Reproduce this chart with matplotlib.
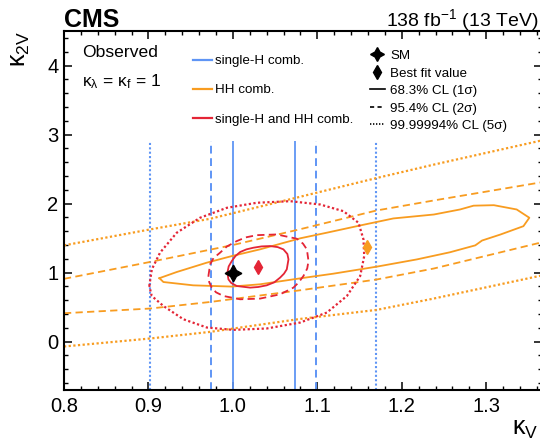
import matplotlib
matplotlib.use("Agg")
import matplotlib.pyplot as plt
from matplotlib.lines import Line2D
from matplotlib.ticker import MultipleLocator, FormatStrFormatter

plt.rcParams['font.family'] = ['Liberation Sans', 'DejaVu Sans']
plt.rcParams['mathtext.fontset'] = 'custom'
plt.rcParams['mathtext.rm'] = 'Liberation Sans'
plt.rcParams['mathtext.it'] = 'Liberation Sans:italic'
plt.rcParams['mathtext.bf'] = 'Liberation Sans:bold'

# ---------------- data ----------------
# single-H combination: kappa_V intervals (vertical bands), k2V scan top
sh_1sig = [1.000, 1.073]
sh_2sig = [0.974, 1.098]
sh_5sig = [0.902, 1.169]
sh_k2v_top = 2.9

# HH combination, 68.3% CL closed contour
hh1_kv = [0.913, 0.9335, 0.969, 0.9987, 1.032, 1.080, 1.111, 1.151, 1.190, 1.238,
          1.269, 1.285, 1.309, 1.336, 1.351, 1.344, 1.317, 1.295, 1.287, 1.257,
          1.218, 1.1705, 1.119, 1.080, 1.032, 0.9987, 0.953, 0.9177, 0.913]
hh1_k2v = [0.92, 1.009, 1.144, 1.240, 1.337, 1.498, 1.578, 1.684, 1.785, 1.842,
           1.915, 1.970, 1.977, 1.915, 1.795, 1.673, 1.553, 1.465, 1.395, 1.295,
           1.192, 1.087, 0.985, 0.918, 0.831, 0.798, 0.816, 0.864, 0.92]
# HH 95.4% CL (two open branches)
hh2u_kv = [0.8, 0.9, 1.0, 1.08, 1.17, 1.24, 1.366]
hh2u_k2v = [0.91, 1.15, 1.40, 1.63, 1.90, 2.05, 2.31]
hh2l_kv = [0.8, 0.902, 0.973, 1.08, 1.17, 1.238, 1.366]
hh2l_k2v = [0.412, 0.48, 0.575, 0.745, 0.90, 1.06, 1.44]
# HH 99.99994% CL (two open branches)
hh5u_kv = [0.8, 0.902, 0.973, 1.08, 1.17, 1.238, 1.366]
hh5u_k2v = [1.395, 1.626, 1.78, 2.10, 2.37, 2.565, 2.916]
hh5l_kv = [0.8, 0.902, 0.973, 1.08, 1.17, 1.236, 1.366]
hh5l_k2v = [-0.07, 0.046, 0.142, 0.33, 0.46, 0.62, 0.96]

# single-H + HH combination contours
c1_kv = [0.9935, 0.9950, 0.9987, 1.003, 1.0085, 1.016, 1.0243, 1.034, 1.044, 1.053,
         1.0598, 1.0645, 1.0658, 1.0638, 1.0605, 1.0559, 1.049, 1.040, 1.030, 1.0204,
         1.0046, 0.998, 0.9947, 0.9935]
c1_k2v = [1.0, 1.09, 1.168, 1.24, 1.298, 1.337, 1.361, 1.38, 1.385, 1.37,
          1.337, 1.27, 1.192, 1.048, 0.985, 0.928, 0.86, 0.816, 0.792, 0.783,
          0.806, 0.85, 0.903, 1.0]
c2_kv = [0.971, 0.973, 0.977, 0.9848, 0.993, 1.0046, 1.015, 1.0283, 1.052, 1.0757,
         1.083, 1.0876, 1.0895, 1.0880, 1.0835, 1.078, 1.0717, 1.0559, 1.0322, 1.0085,
         0.9887, 0.980, 0.975, 0.972, 0.971]
c2_k2v = [0.951, 1.12, 1.21, 1.289, 1.38, 1.457, 1.51, 1.543, 1.553, 1.491,
          1.42, 1.337, 1.168, 1.06, 0.951, 0.86, 0.783, 0.686, 0.624, 0.614,
          0.662, 0.715, 0.783, 0.86, 0.951]
c5_kv = [0.901, 0.904, 0.9137, 0.9335, 0.9611, 0.9928, 1.0283, 1.0678, 1.1033,
         1.1309, 1.1487, 1.1546, 1.1555, 1.1507, 1.135, 1.1113, 1.0796, 1.040,
         1.0006, 0.9691, 0.9413, 0.9177, 0.9039, 0.901]
c5_k2v = [0.806, 1.048, 1.289, 1.578, 1.795, 1.939, 2.012, 2.035, 1.987,
          1.890, 1.722, 1.481, 1.240, 0.951, 0.662, 0.422, 0.277, 0.191,
          0.171, 0.205, 0.325, 0.517, 0.662, 0.806]

sm_point = (1.0, 1.0)
bf_comb = (1.0295, 1.081)
bf_hh = (1.1586, 1.370)

leg1_labels = ["single-H comb.", "HH comb.", "single-H and HH comb."]
leg2_labels = ["SM", "Best fit value", "68.3% CL (1σ)", "95.4% CL (2σ)",
               "99.99994% CL (5σ)"]

# ---------------- style ----------------
BLUE = '#5f95f5'
ORANGE = '#f89c20'
RED = '#e42536'
DASH = (0, (4, 2.4))
DOT = (0, (1, 1.1))
LW = 1.3

fig = plt.figure(figsize=(5.4, 4.42), dpi=100)
ax = fig.add_axes([64 / 540, 52 / 442, 478 / 540, 359 / 442])
ax.set_xlim(0.8, 1.366)
ax.set_ylim(-0.7, 4.5)

# single-H
ax.vlines(sh_5sig, -0.7, sh_k2v_top, colors=BLUE, lw=1.5, linestyles=[DOT])
ax.vlines(sh_2sig, -0.7, sh_k2v_top, colors=BLUE, lw=1.4, linestyles=[DASH])
ax.vlines(sh_1sig, -0.7, sh_k2v_top, colors=BLUE, lw=1.3, linestyles='solid')

# HH
ax.plot(hh5u_kv, hh5u_k2v, color=ORANGE, lw=1.6, ls=DOT)
ax.plot(hh5l_kv, hh5l_k2v, color=ORANGE, lw=1.6, ls=DOT)
ax.plot(hh2u_kv, hh2u_k2v, color=ORANGE, lw=LW, ls=DASH)
ax.plot(hh2l_kv, hh2l_k2v, color=ORANGE, lw=LW, ls=DASH)
ax.plot(hh1_kv, hh1_k2v, color=ORANGE, lw=LW, ls='solid')

# combination
ax.plot(c5_kv, c5_k2v, color=RED, lw=1.6, ls=DOT)
ax.plot(c2_kv, c2_k2v, color=RED, lw=LW, ls=DASH)
ax.plot(c1_kv, c1_k2v, color=RED, lw=LW, ls='solid')

# points
ax.plot([bf_hh[0]], [bf_hh[1]], marker='d', color=ORANGE, ms=7, ls='none')
ax.plot([bf_comb[0]], [bf_comb[1]], marker='d', color=RED, ms=7, ls='none')
ax.plot([sm_point[0]], [sm_point[1]], marker=(4, 1, 0), color='k', ms=12, ls='none')

# axes styling
for s in ax.spines.values():
    s.set_linewidth(1.5)
ax.xaxis.set_major_locator(MultipleLocator(0.1))
ax.xaxis.set_minor_locator(MultipleLocator(0.02))
ax.xaxis.set_major_formatter(FormatStrFormatter('%.1f'))
ax.yaxis.set_major_locator(MultipleLocator(1))
ax.yaxis.set_minor_locator(MultipleLocator(0.2))
ax.yaxis.set_major_formatter(FormatStrFormatter('%d'))
ax.tick_params(which='both', direction='in', top=True, right=True, labelsize=14.5)
ax.tick_params(which='major', length=6, width=1.1)
ax.tick_params(which='minor', length=3, width=1.0)
ax.tick_params(axis='x', pad=5)
ax.tick_params(axis='y', pad=4)

ax.set_xlabel('κ$_{\\mathregular{V}}$', fontsize=18, ha='right')
ax.xaxis.set_label_coords(0.9916, -0.075)
ax.set_ylabel('κ$_{\\mathregular{2V}}$', fontsize=18, ha='right')
ax.yaxis.set_label_coords(-0.067, 1.0)

# texts
ax.text(0.0, 1.012, 'CMS', fontsize=18, fontweight='bold', transform=ax.transAxes,
        ha='left', va='baseline')
fig.text(539 / 540, 1 - 26.5 / 442, '138 fb$^{\\mathregular{-1}}$ (13 TeV)', fontsize=14,
         ha='right', va='baseline')
ax.text(0.037, 0.9396, 'Observed', fontsize=12.6, transform=ax.transAxes, va='center')
ax.text(0.037, 0.8588, 'κ$_{\\mathregular{λ}}$ = κ$_{\\mathregular{f}}$ = 1', fontsize=12.6,
        transform=ax.transAxes, va='center')

# legends
h1 = [Line2D([], [], color=BLUE, lw=1.6), Line2D([], [], color=ORANGE, lw=1.6),
      Line2D([], [], color=RED, lw=1.6)]
leg1 = ax.legend(h1, leg1_labels, loc='upper left', bbox_to_anchor=(0.2705, 0.9334),
                 frameon=False, fontsize=9.6, handlelength=1.37, handletextpad=0.25,
                 labelspacing=1.26, borderpad=0, borderaxespad=0)
ax.add_artist(leg1)
h2 = [Line2D([], [], marker=(4, 1, 0), color='k', ms=10, ls='none'),
      Line2D([], [], marker='d', color='k', ms=7, ls='none'),
      Line2D([], [], color='k', lw=1.2),
      Line2D([], [], color='k', lw=1.2, ls=(0, (2.5, 2))),
      Line2D([], [], color='k', lw=1.2, ls=(0, (0.8, 1.0)))]
ax.legend(h2, leg2_labels, loc='upper left', bbox_to_anchor=(0.640, 0.948),
          frameon=False, fontsize=9.6, handlelength=1.13, handletextpad=0.38,
          labelspacing=0.39, borderpad=0, borderaxespad=0)

fig.savefig('out.png', dpi=100)
